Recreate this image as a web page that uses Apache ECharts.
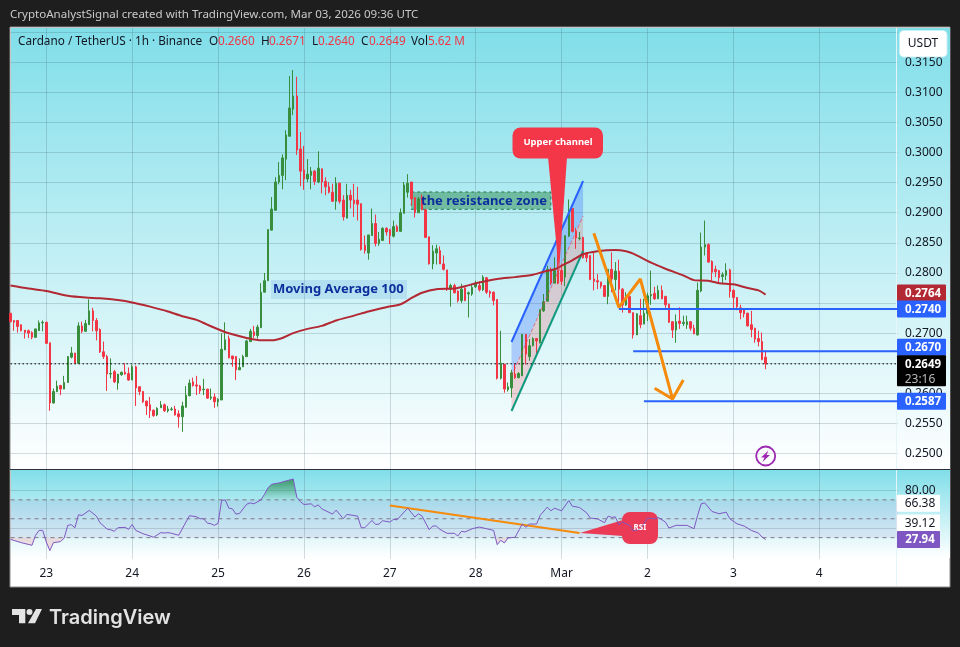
<!DOCTYPE html>
<html>
<head>
<meta charset="utf-8">
<style>html,body{margin:0;padding:0;background:#1e1e1e}#c{width:960px;height:647px}</style>
<script src="https://cdn.jsdelivr.net/npm/echarts@6/dist/echarts.min.js"></script>
</head>
<body>
<div id="c"></div>
<script>
// ---------- candles, one per hour, first one Feb 22 14:00 ----------
const opens=[.2733,.2721,.2721,.2714,.2705,.2704,.2701,.2693,.2704,.2717,
.2718,.2684,.2584,.2603,.2613,.2607,.2618,.2660,.2667,.2650,
.2712,.2703,.2714,.2737,.2721,.2706,.2669,.2661,.2632,.2636,
.2617,.2631,.2635,.2633,.2622,.2644,.2611,.2603,.2587,.2581,
.2572,.2564,.2576,.2581,.2571,.2573,.2574,.2566,.2561,.2577,
.2596,.2619,.2614,.2612,.2606,.2607,.2592,.2594,.2586,.2589,
.2672,.2691,.2662,.2661,.2639,.2644,.2661,.2686,.2702,.2696,
.2709,.2768,.2787,.2871,.2904,.2951,.2962,.2989,.3027,.3072,
.3094,.3006,.2971,.2956,.2962,.2969,.2951,.2973,.2952,.2943,
.2934,.2919,.2949,.2921,.2891,.2929,.2921,.2921,.2915,.2846,
.2833,.2862,.2882,.2849,.2854,.2874,.2872,.2861,.2877,.2869,
.2899,.2934,.2951,.2925,.2900,.2926,.2905,.2860,.2815,.2833,
.2837,.2815,.2805,.2773,.2779,.2770,.2754,.2775,.2765,.2765,
.2777,.2779,.2772,.2792,.2769,.2768,.2756,.2625,.2648,.2606,
.2609,.2632,.2626,.2629,.2698,.2661,.2679,.2691,.2684,.2737,
.2753,.2805,.2783,.2804,.2804,.2793,.2861,.2907,.2869,.2857,
.2859,.2833,.2829,.2790,.2787,.2785,.2779,.2761,.2806,.2789,
.2803,.2773,.2747,.2761,.2734,.2697,.2729,.2715,.2733,.2762,
.2766,.2757,.2771,.2761,.2748,.2719,.2705,.2720,.2716,.2714,
.2719,.2708,.2697,.2770,.2843,.2847,.2819,.2806,.2804,.2794,
.2796,.2805,.2771,.2759,.2742,.2740,.2733,.2714,.2708,.2691,
.2686,.2660];
const highs=[.2733,.2721,.2721,.2714,.2705,.2706,.2703,.2707,.2721,.2721,
.2719,.2684,.2608,.2621,.2614,.2629,.2662,.2677,.2667,.2718,
.2719,.2722,.2756,.2742,.2725,.2708,.2686,.2664,.2658,.2639,
.2632,.2636,.2650,.2643,.2647,.2646,.2611,.2604,.2588,.2594,
.2573,.2577,.2587,.2583,.2579,.2577,.2579,.2572,.2586,.2612,
.2623,.2626,.2629,.2614,.2624,.2607,.2608,.2600,.2592,.2700,
.2718,.2696,.2662,.2662,.2658,.2664,.2689,.2707,.2712,.2714,
.2783,.2800,.2872,.2926,.2959,.2984,.2997,.3037,.3127,.3137,
.3126,.3034,.3011,.2989,.2976,.2971,.3002,.2973,.2959,.2951,
.2948,.2959,.2950,.2929,.2948,.2938,.2948,.2943,.2915,.2862,
.2863,.2907,.2897,.2868,.2876,.2876,.2873,.2887,.2880,.2907,
.2951,.2964,.2951,.2926,.2926,.2930,.2906,.2860,.2846,.2847,
.2844,.2829,.2805,.2782,.2782,.2771,.2782,.2776,.2769,.2782,
.2787,.2786,.2796,.2793,.2771,.2769,.2756,.2704,.2649,.2618,
.2639,.2650,.2635,.2698,.2698,.2690,.2693,.2692,.2739,.2765,
.2812,.2809,.2826,.2846,.2810,.2862,.2922,.2907,.2875,.2868,
.2860,.2834,.2829,.2833,.2798,.2785,.2780,.2806,.2834,.2818,
.2822,.2775,.2768,.2762,.2734,.2733,.2757,.2757,.2767,.2804,
.2777,.2779,.2779,.2762,.2749,.2719,.2731,.2743,.2729,.2729,
.2720,.2714,.2784,.2867,.2887,.2849,.2821,.2812,.2805,.2801,
.2816,.2807,.2773,.2760,.2747,.2741,.2734,.2737,.2709,.2704,
.2701,.2671];
const lows=[.2718,.2704,.2701,.2703,.2691,.2692,.2690,.2692,.2704,.2703,
.2682,.2571,.2583,.2602,.2597,.2607,.2618,.2658,.2650,.2650,
.2700,.2703,.2714,.2703,.2688,.2667,.2657,.2604,.2625,.2617,
.2606,.2629,.2631,.2621,.2622,.2579,.2597,.2584,.2564,.2559,
.2561,.2562,.2576,.2569,.2568,.2571,.2563,.2543,.2536,.2576,
.2595,.2611,.2597,.2599,.2597,.2591,.2589,.2576,.2578,.2589,
.2672,.2658,.2644,.2622,.2639,.2644,.2661,.2686,.2692,.2691,
.2709,.2768,.2787,.2871,.2904,.2947,.2939,.2954,.3027,.3062,
.2996,.2944,.2938,.2951,.2939,.2946,.2949,.2932,.2929,.2932,
.2918,.2905,.2915,.2887,.2891,.2907,.2893,.2887,.2837,.2832,
.2822,.2862,.2844,.2845,.2853,.2862,.2848,.2859,.2868,.2868,
.2899,.2925,.2912,.2892,.2900,.2904,.2858,.2814,.2806,.2814,
.2815,.2804,.2770,.2744,.2766,.2751,.2750,.2753,.2726,.2762,
.2775,.2769,.2770,.2765,.2759,.2746,.2623,.2623,.2601,.2603,
.2593,.2624,.2625,.2629,.2648,.2654,.2678,.2662,.2683,.2735,
.2752,.2780,.2783,.2781,.2780,.2778,.2860,.2867,.2840,.2854,
.2824,.2818,.2788,.2771,.2773,.2774,.2760,.2748,.2768,.2771,
.2745,.2734,.2745,.2734,.2691,.2697,.2708,.2715,.2720,.2747,
.2755,.2757,.2756,.2742,.2717,.2692,.2684,.2707,.2712,.2707,
.2704,.2698,.2696,.2768,.2829,.2817,.2787,.2793,.2783,.2782,
.2788,.2759,.2740,.2738,.2723,.2726,.2711,.2693,.2684,.2678,
.2655,.2640];
const closes=[.2719,.2718,.2711,.2704,.2701,.2700,.2693,.2707,.2717,.2718,
.2683,.2584,.2603,.2612,.2607,.2618,.2661,.2667,.2650,.2712,
.2703,.2716,.2737,.2721,.2704,.2669,.2661,.2632,.2633,.2619,
.2632,.2635,.2632,.2622,.2644,.2609,.2603,.2586,.2579,.2571,
.2563,.2575,.2581,.2571,.2574,.2574,.2564,.2561,.2579,.2597,
.2617,.2613,.2612,.2604,.2607,.2592,.2594,.2586,.2590,.2673,
.2689,.2659,.2657,.2639,.2643,.2661,.2687,.2703,.2696,.2710,
.2768,.2787,.2872,.2906,.2951,.2962,.2991,.3029,.3074,.3094,
.3004,.2969,.2956,.2964,.2969,.2952,.2974,.2951,.2943,.2934,
.2919,.2949,.2919,.2893,.2929,.2921,.2915,.2914,.2839,.2837,
.2863,.2882,.2849,.2856,.2874,.2868,.2862,.2877,.2869,.2900,
.2946,.2949,.2923,.2900,.2923,.2905,.2859,.2815,.2836,.2840,
.2815,.2806,.2773,.2779,.2767,.2754,.2773,.2754,.2767,.2776,
.2782,.2772,.2793,.2768,.2766,.2754,.2625,.2650,.2607,.2611,
.2634,.2626,.2633,.2698,.2665,.2679,.2691,.2687,.2739,.2752,
.2806,.2783,.2804,.2783,.2786,.2862,.2897,.2869,.2858,.2858,
.2825,.2825,.2789,.2786,.2785,.2778,.2761,.2806,.2790,.2803,
.2773,.2747,.2761,.2734,.2697,.2732,.2714,.2733,.2762,.2764,
.2757,.2771,.2757,.2747,.2718,.2705,.2719,.2716,.2718,.2719,
.2708,.2699,.2771,.2843,.2847,.2818,.2801,.2802,.2792,.2797,
.2804,.2769,.2759,.2744,.2734,.2732,.2712,.2706,.2690,.2686,
.2656,.2649];

// ---------- Moving Average 100 ----------
const maHours=[0,5,10,16,21,25,30,34,39,44,48,52,55,59,62,66,70,73,76,79,83,87,91,96,100,105,109,112,115,119,124,127,131,136,141,146,149,152,154,157,160,164,169,172,174,179,183,188,191,195,198,202,206,209,211];
const maValues=[.2779,.2774,.2770,.2762,.2759,.2758,.2755,.2751,.2744,.2736,.2728,.2722,.2714,.2704,.2698,.2692,.2688,.2688,.2692,.2700,.2707,.2712,.2721,.2729,.2736,.2743,.2748,.2758,.2767,.2773,.2774,.2778,.2784,.2790,.2793,.2797,.2802,.2806,.2812,.2821,.2831,.2836,.2838,.2836,.2832,.2817,.2807,.2796,.2788,.2787,.2783,.2781,.2775,.2771,.2764];

// ---------- RSI ----------
const rsiHours=[0,3,6,7,8,9,10,11,12,14,15,16,17,18,19,20,22,24,25,27,28,29,30,32,33,34,35,37,39,40,42,43,44,45,47,50,52,53,54,55,56,57,58,59,60,61,62,63,64,66,67,68,70,71,72,73,75,77,79,80,81,82,84,85,86,87,90,91,93,94,97,98,99,101,102,103,104,106,107,108,111,113,114,115,117,118,119,120,122,124,125,126,127,129,131,133,135,136,137,138,139,141,143,144,145,147,148,150,151,152,154,156,157,159,161,162,164,166,167,168,169,170,171,173,174,176,177,178,180,181,183,184,186,189,191,192,193,194,196,198,200,201,203,205,207,209,210,211];
const rsiValues=[28.2,24.7,21.9,32.5,37.7,37.7,25.4,16.3,24.7,25.8,29.6,43,43.7,40.5,54.2,53.5,58.8,52.8,45.8,39.1,38.4,36.7,40.5,40.9,38.8,44,37.7,34.2,31.8,30.4,35.3,34.9,35.3,34.6,32.5,53.2,52.1,50,50,45.4,44.7,43,45.1,69.3,70,61.2,60.5,54.9,55.6,65.4,66.8,65.8,70,76,83,86.5,87.9,90,92.1,72.8,68.2,65.1,65.8,62.6,64.7,60.5,54.9,59.1,50,54.6,52.8,40.5,40.5,48.2,44,44.4,47.9,46.5,49.3,48.9,61.2,51.8,55.3,52.8,38.4,42.3,42.3,38.8,34.6,34.6,31.8,36.7,36,39.5,41.2,39.5,37.7,22.6,27.2,24.4,29.6,30.4,44.4,40.9,44.4,44.4,53.5,62.3,58.4,61.2,58.4,69.3,63.3,61.9,56.3,50.7,50,45.8,52.8,51.4,52.1,43.7,46.5,43,37.4,38.8,44.7,50.7,50,51.4,46.5,40.2,43,43,39.5,53.5,65.8,66.8,57.7,55.3,57,50,44.7,42.3,37.7,34.9,30.7,27.94];
const rsiLevels=[70,50,30];
const rsiTicks=[80,40];
const rsiTagValues=[66.38,39.12,27.94];
const rsiTrendHours=[106,159];
const rsiTrendValues=[64,34.9];

// ---------- axes ----------
const priceGridTicks=[.25,.255,.26,.265,.27,.275,.28,.285,.29,.295,.30,.305,.31,.315,.32];
const priceLabelTicks=[.25,.255,.26,.265,.27,.275,.28,.285,.29,.295,.30,.305,.31,.315];
const dayHours=[10,34,58,82,106,130,154,178,202,226];
const dayLabels=['23','24','25','26','27','28','Mar','2','3','4'];
const slotCount=249;
const categories=Array.from({length:slotCount},(_,i)=>'h'+i);

// ---------- drawings ----------
const channelHours=[140,160];
const channelUpper=[.26852,.29527];
const channelMiddle=[.26288,.28945];
const channelLower=[.25706,.28364];
const zoneHours=[112,151];
const zonePrices=[.29344,.29056];
const zigzagHours=[163,170,176,185];
const zigzagPrices=[.28658,.27429,.27899,.25905];
const arrowHeadHours=[180,185,188];
const arrowHeadPrices=[.26083,.25905,.26221];
const levelPrices=[.2740,.2670,.2587];
const levelStartHours=[170,174,177];
const lastPrice=.2649;
const maLast=.2764;

const textFont='"Noto Sans"';
const BLUE='#2962ff',RED='#f23645',GREEN='#388e3c',ORANGE='#f58a0b',MA='#b22833',INK='#131722',ANN='#0c2f9c';

const candleData=opens.map((o,i)=>[o,closes[i],lows[i],highs[i]]);
const pairs=(xs,ys)=>xs.map((x,i)=>[x,ys[i]]);
const endSlot=slotCount-1;

function lineSeries(name,data,color,width,extra,gridI){
  return Object.assign({type:'line',name,data,xAxisIndex:gridI||0,yAxisIndex:gridI||0,showSymbol:false,symbol:'none',
    silent:true,animation:false,lineStyle:{color,width},z:4},extra||{});
}
function polygonSeries(gridI,z,build){
  return {type:'custom',xAxisIndex:gridI,yAxisIndex:gridI,silent:true,animation:false,z,clip:true,
    data:[[0,gridI?50:.28]],renderItem:(p,api)=>({type:'group',children:build(api,p)})};
}
function poly(points,fill){return {type:'polygon',shape:{points},style:{fill},silent:true};}

// RSI fill beyond a level, the crossings worked out in pixels
function rsiFill(api,level,above,fill){
  const base=api.coord([0,level])[1];
  const pts=rsiHours.map((h,i)=>api.coord([h,rsiValues[i]]));
  const out=[];let cur=null;
  const inside=p=>above?p[1]<base:p[1]>base;
  pts.forEach((p,i)=>{
    if(inside(p)){
      if(!cur){
        cur=[];
        if(i>0){const q=pts[i-1];const t=(base-q[1])/(p[1]-q[1]);cur.push([q[0]+t*(p[0]-q[0]),base]);}
        else cur.push([p[0],base]);
      }
      cur.push(p);
    }else if(cur){
      const q=pts[i-1];const t=(base-q[1])/(p[1]-q[1]);cur.push([q[0]+t*(p[0]-q[0]),base]);
      out.push(poly(cur,fill));cur=null;
    }
  });
  if(cur){cur.push([cur[cur.length-1][0],base]);out.push(poly(cur,fill));}
  return out;
}

// price tags on the scale
function tagSeries(gridI,rows){
  return {type:'custom',xAxisIndex:gridI,yAxisIndex:gridI,silent:true,animation:false,z:9,clip:false,
    data:rows.map(r=>[0,r.v]),
    renderItem:(p,api)=>{
      const r=rows[p.dataIndex];
      const y=api.coord([0,api.value(1)])[1]+(r.shift||0);
      const h=r.h||17,w=r.w||49,top=y-8.5;
      const cx=897+(r.w?23:26);
      const kids=[{type:'rect',shape:{x:897,y:top,width:w,height:h,r:1},style:{fill:r.bg}},
        {type:'text',x:cx,y:y+0.5,style:{text:r.t,fill:r.fg,font:(r.plain?'':'bold ')+(r.plain?'12px ':'11.5px ')+textFont,align:'center',verticalAlign:'middle'}}];
      if(r.sub)kids.push({type:'text',x:920,y:y+15.5,style:{text:r.sub,fill:'#b8b8b8',font:'12px '+textFont,align:'center',verticalAlign:'middle'}});
      return {type:'group',children:kids};
    }};
}

const legendParts=[['Cardano / TetherUS · 1h · Binance',18,INK],['O',209,INK],['0.2660',218,RED],['H',261,INK],['0.2671',269,RED],['L',312,INK],['0.2640',318,RED],['C',361,INK],['0.2649',369,RED],['Vol',411,INK],['5.62 M',428,RED]];

const g=[
 {type:'rect',z:-5,shape:{x:0,y:0,width:960,height:647},style:{fill:'#1e1e1e'}},
 {type:'rect',z:-4,shape:{x:10,y:27,width:940,height:560},style:{fill:'#ffffff',stroke:'#8b8b8b',lineWidth:1}},
 {type:'rect',z:-3,shape:{x:11,y:28,width:939,height:441},style:{fill:new echarts.graphic.LinearGradient(0,0,0,1,[{offset:0,color:'#80dee9'},{offset:1,color:'#ffffff'}])}},
 {type:'rect',z:-3,shape:{x:11,y:470,width:939,height:88},style:{fill:new echarts.graphic.LinearGradient(0,0,0,1,[{offset:0,color:'#80dee9'},{offset:1,color:'#ffffff'}])}},
 {type:'line',z:6,shape:{x1:10,y1:469.5,x2:950,y2:469.5},style:{stroke:'#2a2e39',lineWidth:1}},
 {type:'line',z:1,shape:{x1:896.5,y1:28,x2:896.5,y2:586},style:{stroke:'#e4f4f7',lineWidth:1}},
 {type:'text',x:10,y:15,z:20,style:{text:'CryptoAnalystSignal created with TradingView.com, Mar 03, 2026 09:36 UTC',fill:'#c9c9c9',font:'11.55px '+textFont,align:'left',verticalAlign:'middle'}},
 ...legendParts.map(p=>({type:'text',x:p[1],y:42,z:20,style:{text:p[0],fill:p[2],font:'11.75px '+textFont,align:'left',verticalAlign:'middle'}})),
 {type:'rect',z:20,shape:{x:899,y:30,width:48.5,height:27.5,r:5},style:{fill:'rgba(255,255,255,0.55)'}},
 {type:'rect',z:20,shape:{x:900,y:31,width:46.5,height:25.5,r:4},style:{fill:'#ffffff'}},
 {type:'text',x:923,y:44,z:21,style:{text:'USDT',fill:INK,font:'12px '+textFont,align:'center',verticalAlign:'middle'}},
 // Moving Average note
 {type:'rect',z:7,shape:{x:271,y:280,width:136,height:19},style:{fill:'rgba(90,160,225,0.2)'}},
 {type:'text',x:273,y:289.5,z:8,style:{text:'Moving Average 100',fill:ANN,font:'bold 13px '+textFont,align:'left',verticalAlign:'middle'}},
 {type:'text',x:421,y:201,z:8,style:{text:'the resistance zone',fill:ANN,font:'bold 13px '+textFont,align:'left',verticalAlign:'middle'}},
 // Upper channel callout
 {type:'polygon',z:10,shape:{points:[[548,157],[567,157],[559,272]]},style:{fill:'#f33648'}},
 {type:'rect',z:10,shape:{x:512.5,y:127.5,width:90.5,height:31,r:8},style:{fill:'#f33648'}},
 {type:'text',x:558,y:142,z:11,style:{text:'Upper channel',fill:'#ffffff',font:'bold 9.5px '+textFont,align:'center',verticalAlign:'middle'}},
 // RSI callout
 {type:'polygon',z:3,shape:{points:[[580,533],[623,520],[623,536]]},style:{fill:'#ea3a55'}},
 {type:'rect',z:3,shape:{x:622,y:512,width:36,height:32,r:8},style:{fill:'#ea3a55'}},
 {type:'text',x:640,y:528,z:6,style:{text:'RSI',fill:'#ffffff',font:'bold 8px '+textFont,align:'center',verticalAlign:'middle'}},
 // flash badge
 {type:'circle',z:8,shape:{cx:765.7,cy:456,r:9.5},style:{fill:'rgba(255,255,255,0.3)',stroke:'#9c27b0',lineWidth:1.8}},
 {type:'polygon',z:8,shape:{points:[[768.5,450.5],[761,457.5],[764.5,457.5],[762.5,462],[770,455],[766.5,455]]},style:{fill:'#9c27b0'}},
 // TradingView mark
 {type:'polygon',z:20,shape:{points:[[12,609],[25.3,609],[25.3,623.3],[19,623.3],[19,615],[12,615]]},style:{fill:'#e3e3e3'}},
 {type:'circle',z:20,shape:{cx:29.5,cy:612,r:3},style:{fill:'#e3e3e3'}},
 {type:'polygon',z:20,shape:{points:[[36,609],[42,609],[35,623.3],[28,623.3]]},style:{fill:'#e3e3e3'}},
 {type:'text',x:49,y:617.5,z:20,style:{text:'TradingView',fill:'#e3e3e3',font:'600 20px Inter',align:'left',verticalAlign:'middle'}}
];

const chart=echarts.init(document.getElementById('c'),null,{renderer:'canvas'});
const gridLine={color:'rgba(50,80,95,0.2)',width:1};
const dayTest=i=>dayHours.indexOf(i)>=0;
chart.setOption({
 animation:false,
 backgroundColor:'#1e1e1e',
 graphic:{elements:g},
 grid:[{left:10.5,width:887.5,top:28,height:441,containLabel:false},{left:10.5,width:887.5,top:470,height:89,containLabel:false}],
 xAxis:[
  {type:'category',gridIndex:0,data:categories,boundaryGap:false,axisLine:{show:false},axisTick:{show:false},axisLabel:{show:false},
   splitLine:{show:true,interval:dayTest,lineStyle:gridLine}},
  {type:'category',gridIndex:1,data:categories,boundaryGap:false,axisLine:{show:false},axisTick:{show:false},
   axisLabel:{show:true,interval:dayTest,margin:9,color:INK,fontFamily:'Noto Sans',fontSize:12,hideOverlap:false,formatter:(v,i)=>dayLabels[dayHours.indexOf(i)]||''},
   splitLine:{show:true,interval:dayTest,lineStyle:gridLine}}
 ],
 yAxis:[
  {type:'value',gridIndex:0,position:'right',min:.24743,max:.32068,axisLine:{show:false},
   axisTick:{show:false,customValues:priceGridTicks},
   axisLabel:{show:false},
   splitLine:{show:true,lineStyle:gridLine}},
  {type:'value',gridIndex:1,position:'right',min:7.4,max:101.6,axisLine:{show:false},
   axisTick:{show:false,customValues:rsiTicks},
   axisLabel:{show:true,customValues:rsiTicks,margin:7,color:INK,fontFamily:'Noto Sans',fontSize:12,align:'left',padding:[2,0,0,0],formatter:v=>v.toFixed(2)},
   splitLine:{show:true,lineStyle:gridLine}},
  {type:'value',gridIndex:0,position:'right',min:.24743,max:.32068,axisLine:{show:false},
   axisTick:{show:false,customValues:priceLabelTicks},
   axisLabel:{show:true,customValues:priceLabelTicks,margin:7,color:INK,fontFamily:'Noto Sans',fontSize:12,align:'left',padding:[2,0,0,0],formatter:v=>v.toFixed(4)},
   splitLine:{show:false}}
 ],
 series:[
  // resistance zone, channel fills
  polygonSeries(0,1,api=>{
    const c=(x,y)=>api.coord([x,y]);
    const z=[c(zoneHours[0],zonePrices[0]),c(zoneHours[1],zonePrices[0]),c(zoneHours[1],zonePrices[1]),c(zoneHours[0],zonePrices[1])];
    return [
      {type:'polygon',shape:{points:z},style:{fill:'rgba(46,140,80,0.5)',stroke:'#1f7a4d',lineWidth:1,lineDash:[3,3]},silent:true},
      poly([c(channelHours[0],channelUpper[0]),c(channelHours[1],channelUpper[1]),c(channelHours[1],channelMiddle[1]),c(channelHours[0],channelMiddle[0])],'rgba(41,98,255,0.28)'),
      poly([c(channelHours[0],channelMiddle[0]),c(channelHours[1],channelMiddle[1]),c(channelHours[1],channelLower[1]),c(channelHours[0],channelLower[0])],'rgba(242,54,69,0.2)')
    ];
  }),
  {type:'candlestick',xAxisIndex:0,yAxisIndex:0,data:candleData,barWidth:2,silent:true,animation:false,z:2,
   itemStyle:{color:GREEN,color0:RED,borderColor:GREEN,borderColor0:RED,borderWidth:1}},
  lineSeries('channel upper',pairs(channelHours,channelUpper),BLUE,2),
  lineSeries('channel middle',pairs(channelHours,channelMiddle),'rgba(242,54,69,0.6)',1,{lineStyle:{color:'rgba(242,54,69,0.6)',width:1,type:'dashed'}}),
  lineSeries('channel lower',pairs(channelHours,channelLower),'#129a80',2),
  lineSeries('MA 100',pairs(maHours,maValues),MA,2,{smooth:0.25}),
  lineSeries('last price',[[0,lastPrice],[endSlot,lastPrice]],'#000',1,{lineStyle:{color:'#000',width:1,type:[1.5,2.5]}}),
  ...levelPrices.map((v,i)=>lineSeries('level '+v,[[levelStartHours[i],v],[endSlot,v]],BLUE,2)),
  lineSeries('zigzag',pairs(zigzagHours,zigzagPrices),ORANGE,3,{z:5}),
  lineSeries('arrow head',pairs(arrowHeadHours,arrowHeadPrices),ORANGE,3,{z:5}),
  tagSeries(0,[
    {v:maLast,t:'0.2764',bg:MA,fg:'#fff',shift:-1.5},
    {v:levelPrices[0],t:'0.2740',bg:BLUE,fg:'#fff'},
    {v:levelPrices[1],t:'0.2670',bg:BLUE,fg:'#fff',shift:-4},
    {v:lastPrice,t:'0.2649',bg:'#000',fg:'#fff',h:31,sub:'23:16'},
    {v:levelPrices[2],t:'0.2587',bg:BLUE,fg:'#fff'}
  ]),
  // RSI pane
  polygonSeries(1,1,api=>{
    const c=(x,y)=>api.coord([x,y]);
    return [poly([c(0,rsiLevels[0]),c(endSlot,rsiLevels[0]),c(endSlot,rsiLevels[2]),c(0,rsiLevels[2])],'rgba(126,87,194,0.11)')];
  }),
  polygonSeries(1,3,api=>[
    ...rsiFill(api,70,true,new echarts.graphic.LinearGradient(0,0,0,1,[{offset:0,color:'rgba(46,140,80,0.85)'},{offset:1,color:'rgba(46,140,80,0.05)'}])),
    ...rsiFill(api,30,false,'rgba(242,54,69,0.15)')
  ]),
  ...rsiLevels.map(v=>lineSeries('rsi level '+v,[[0,v],[endSlot,v]],'#787b86',1,{lineStyle:{color:'#787b86',width:1,type:[4,4]},z:2},1)),
  lineSeries('RSI',pairs(rsiHours,rsiValues),'#7e57c2',1,{z:4},1),
  lineSeries('RSI trend',pairs(rsiTrendHours,rsiTrendValues),ORANGE,2,{z:3},1),
  tagSeries(1,[
    {v:rsiTagValues[0],t:'66.38',bg:'#ffffff',fg:INK,w:43,plain:true},
    {v:rsiTagValues[1],t:'39.12',bg:'#ffffff',fg:INK,w:43,shift:-6,plain:true},
    {v:rsiTagValues[2],t:'27.94',bg:'#7e57c2',fg:'#fff',w:43}
  ])
 ]
});
</script>
</body>
</html>
